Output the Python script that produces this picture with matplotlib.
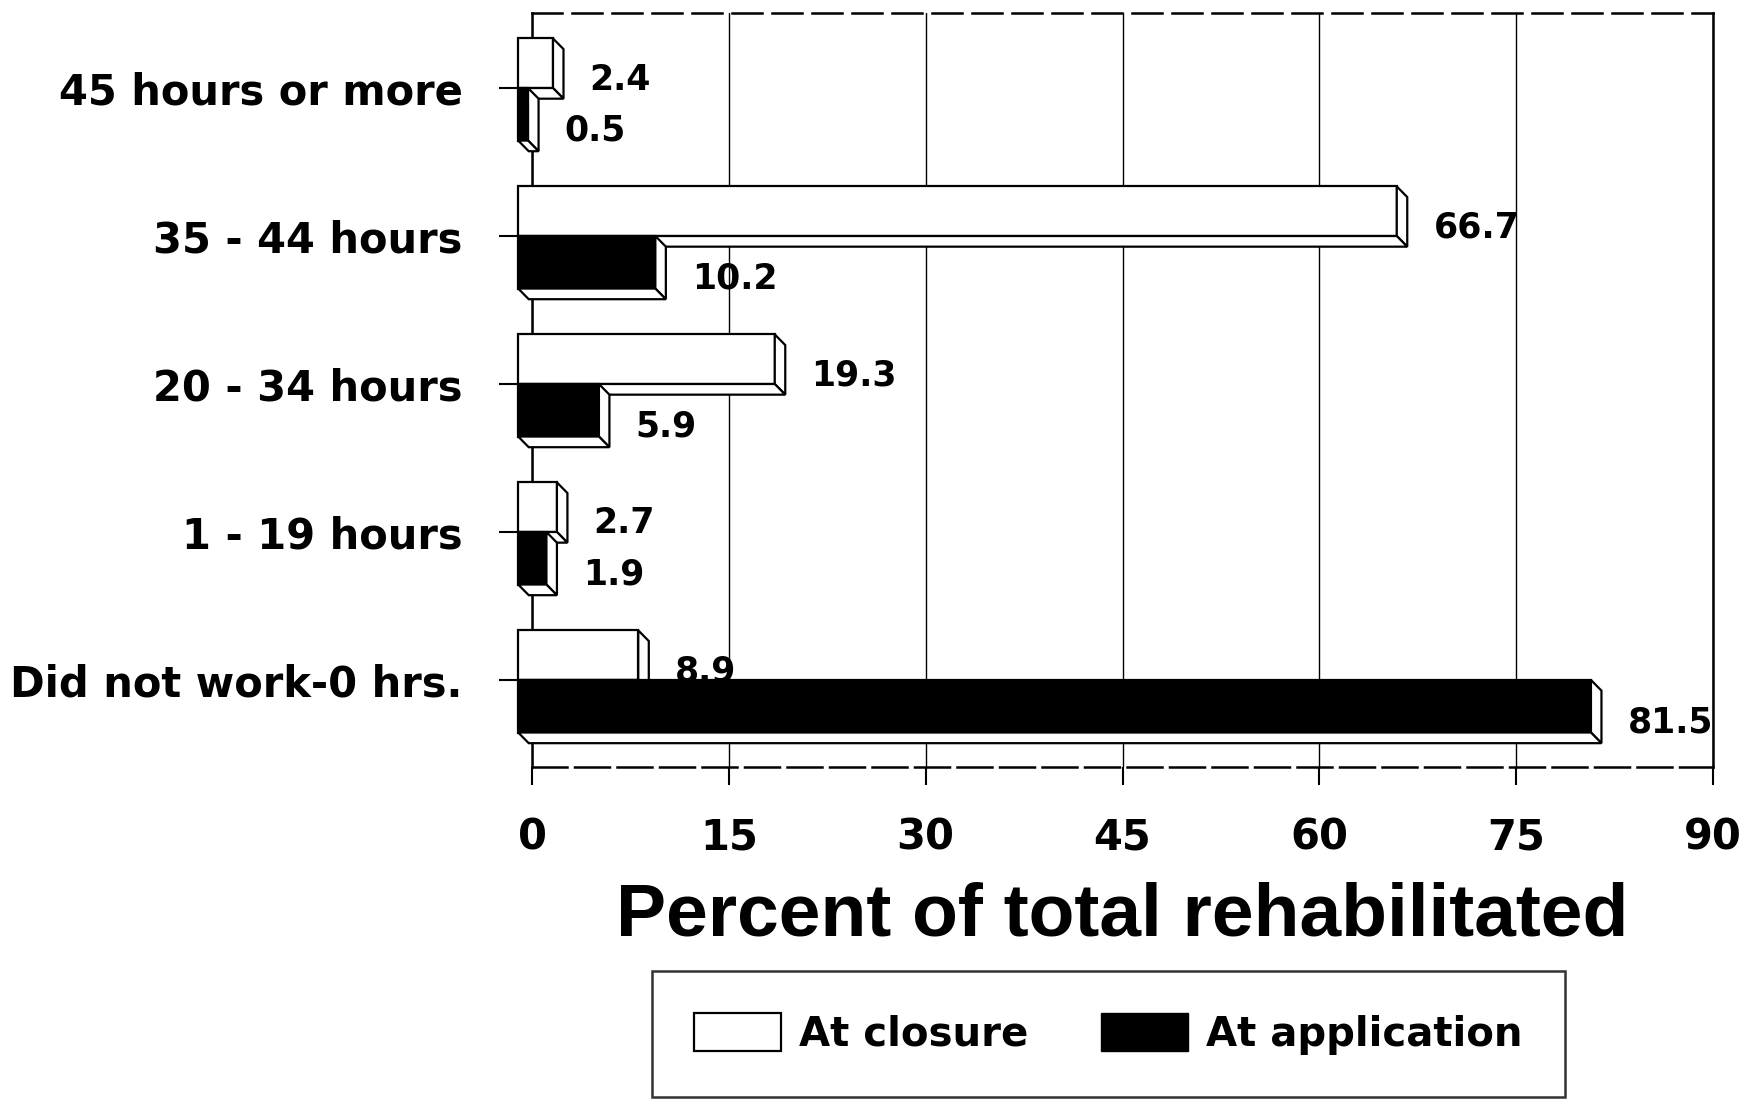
import matplotlib
matplotlib.use('Agg')
import matplotlib.pyplot as plt
from matplotlib.patches import Polygon, Patch
import numpy as np

# data, top row first
categories  = ['45 hours or more', '35 - 44 hours', '20 - 34 hours',
               '1 - 19 hours', 'Did not work-0 hrs.']
closure     = [2.4, 66.7, 19.3, 2.7, 8.9]
application = [0.5, 10.2, 5.9, 1.9, 81.5]
xticks      = [0, 15, 30, 45, 60, 75, 90]

BOLD = dict(family='DejaVu Sans', weight='bold')

# oblique "3D" box geometry in data units
X0 = -1.05      # front-face left edge
DX = 0.8        # depth to the right
DY = 0.072      # depth downwards
H_TOP = 0.335   # closure bar height (above the tick)
H_BOT = 0.355   # application bar height (below the tick)

fig = plt.figure(figsize=(17.46, 11), dpi=100)
fig.patch.set_facecolor('white')
ax = fig.add_axes([532/1746, 1 - 767/1100, (1713-532)/1746, (767-13)/1100])

ypos = np.arange(len(categories))[::-1]


def box(y0, y1, v, face, z):
    x1 = v - DX
    ax.barh((y0 + y1) / 2, x1 - X0, height=y1 - y0, left=X0,
            color=face, edgecolor='black', linewidth=1.6, zorder=z,
            clip_on=False)
    side = [(x1, y1), (x1 + DX, y1 - DY), (x1 + DX, y0 - DY), (x1, y0)]
    bottom = [(X0, y0), (x1, y0), (x1 + DX, y0 - DY), (X0 + DX, y0 - DY)]
    for pts in (side, bottom):
        ax.add_patch(Polygon(pts, closed=True, facecolor='white',
                             edgecolor='black', linewidth=1.6, zorder=z,
                             clip_on=False))


for y, c, a in zip(ypos, closure, application):
    box(y, y + H_TOP, c, 'white', 3)
    ax.text(c + 2.0, y + H_TOP / 2 - 0.11, f'{c}', ha='left', va='center',
            fontsize=25, zorder=3.5, **BOLD)
    box(y - H_BOT, y, a, 'black', 4)
    ax.text(a + 2.0, y - H_BOT / 2 - 0.11, f'{a}', ha='left', va='center',
            fontsize=25, zorder=4.5, **BOLD)

ax.set_xlim(0, 90)
ax.set_ylim(-0.588, 4.507)
ax.set_xticks(xticks)
ax.set_xticklabels([str(t) for t in xticks], fontsize=30, **BOLD)
ax.set_yticks(ypos)
ax.set_yticklabels(categories, fontsize=30, **BOLD)
ax.tick_params(axis='x', direction='out', length=13, width=1.5, pad=23)
ax.tick_params(axis='y', direction='out', length=24, width=1.5, pad=26)

ax.set_axisbelow(True)
ax.xaxis.grid(True, color='black', linewidth=1.0)

for name, sp in ax.spines.items():
    sp.set_color('black')
    sp.set_linewidth(1.8)
ax.spines['top'].set_linestyle((0, (12, 4)))
ax.spines['bottom'].set_linestyle((0, (14, 3)))

ax.set_xlabel('Percent of total rehabilitated', family='Liberation Sans',
              weight='bold', fontsize=54, labelpad=16)

handles = [Patch(facecolor='white', edgecolor='black', linewidth=1.6),
           Patch(facecolor='black', edgecolor='black')]
leg = fig.legend(handles, ['At closure', 'At application'], ncol=2,
                 loc='upper left', bbox_to_anchor=(652/1746, 1 - 971/1100),
                 prop=dict(size=29, **BOLD), frameon=True, fancybox=False,
                 edgecolor='black', borderaxespad=0, borderpad=1.05,
                 handlelength=2.16, handleheight=1.07, handletextpad=0.45,
                 columnspacing=1.8)
leg.get_frame().set_linewidth(1.8)

fig.savefig('out.png', dpi=100, facecolor='white')
